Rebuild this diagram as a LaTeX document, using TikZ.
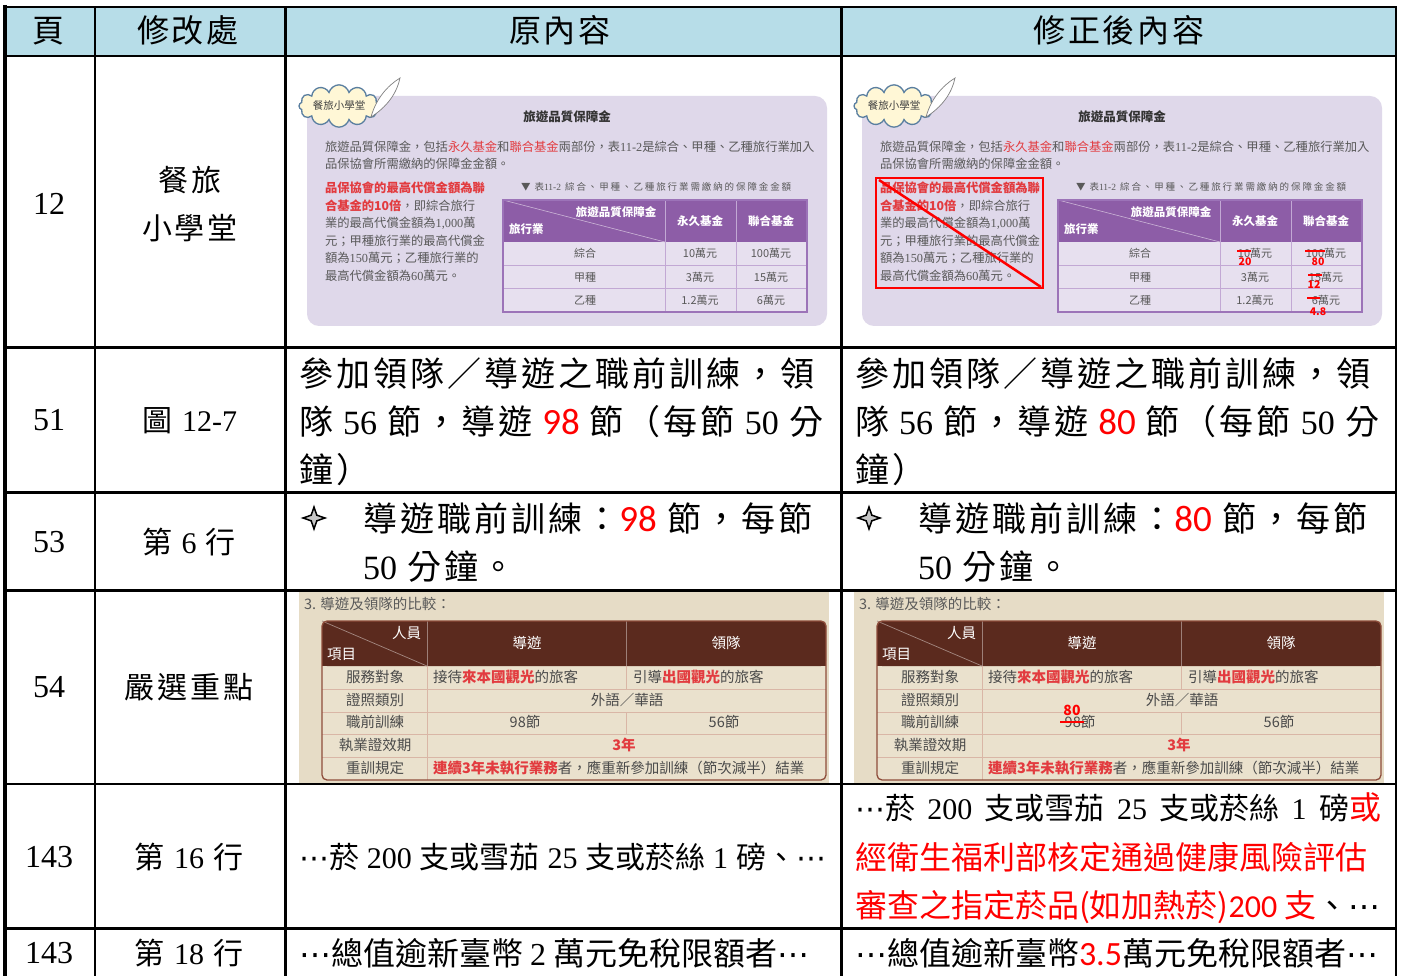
\documentclass[tikz,border=0pt]{standalone}
\usepackage{fontspec}
\setmainfont{Noto Sans CJK TC}
\newfontfamily\spaced[LetterSpace=9]{Noto Sans CJK TC}
\newfontfamily\capfont[LetterSpace=20]{Noto Sans CJK TC}
\newfontfamily\timesnum{Liberation Serif}
\newfontfamily\sansnum{Carlito}
\newfontfamily\symfont{DejaVu Sans}
\usetikzlibrary{shapes.symbols}

\definecolor{headblue}{HTML}{B7DDE8}
\definecolor{lav}{HTML}{DFD8EA}
\definecolor{lavrow}{HTML}{E7E0EF}
\definecolor{purp}{HTML}{8D5DA7}
\definecolor{purpline}{HTML}{C2A8D4}
\definecolor{purpframe}{HTML}{9C73B8}
\definecolor{shotred}{HTML}{E23B3F}
\definecolor{shotgray}{HTML}{595959}
\definecolor{tabgray}{HTML}{4A4A4A}
\definecolor{beige}{HTML}{E6DCC6}
\definecolor{beigerow}{HTML}{EAE1CD}
\definecolor{brownhead}{HTML}{5B2A1E}
\definecolor{brownline}{HTML}{8E4D3B}
\definecolor{rowline}{HTML}{D9B6A6}
\definecolor{cream}{HTML}{FFF7D6}
\definecolor{badge}{HTML}{5A7FA0}

\newcommand{\fsz}[1]{\fontsize{#1}{#1}\selectfont}
\newcommand{\tnum}[1]{{\timesnum #1}}
\newcommand{\rnum}[2][37]{\textcolor{red}{\sansnum\fsz{#1}#2}}
\newcommand{\shotmark}[1]{\textcolor{shotred}{\bfseries #1}}
\newcommand{\midell}{{\symfont ⋯}}

\begin{document}
\begin{tikzpicture}[
    x=1pt, y=-1pt,
    every node/.style={inner sep=0pt, outer sep=0pt},
    grid/.style={line width=2.6pt, line cap=rect},
    head/.style={font=\spaced\fsz{32}, anchor=base},
    pagenum/.style={font=\timesnum\fsz{32}, anchor=base},
    place/.style={font=\spaced\fsz{30}, anchor=base},
    cell/.style={font=\spaced\fsz{34}, anchor=base west},
    line143/.style={font=\fsz{30}, anchor=base west},
    shot/.style={font=\fsz{12.3}, text=shotgray, anchor=base west},
    pcap/.style={font=\capfont\fsz{9.5}, text=shotgray, anchor=base west},
    phead/.style={font=\bfseries\fsz{11.5}, text=white, anchor=base},
    pcell/.style={font=\fsz{11}, text=shotgray, anchor=base},
    btitle/.style={font=\fsz{14.5}, text=shotgray, anchor=base west},
    bhead/.style={font=\fsz{14.5}, text=white, anchor=base},
    bcell/.style={font=\fsz{14.5}, text=tabgray, anchor=base},
    fix/.style={font=\bfseries\fsz{10.5}, text=red, anchor=base},
    strike/.style={red, line width=1.6pt},
    bullet/.style={fill=gray!45, draw=black, line width=1.5pt, line join=miter}
  ]
  \useasboundingbox (0,0) rectangle (1403,976);
  \fill[white] (0,0) rectangle (1403,976);

  % header row
  \fill[headblue] (5,7) rectangle (1396,56);
  \node[head] (h_page) at (48,42.5) {頁};
  \node[head] (h_where) at (188,42.5) {修改處};
  \node[head] (h_orig) at (560,42.5) {原內容};
  \node[head] (h_new) at (1119,42.5) {修正後內容};

  % page and place columns
  \node[pagenum] (p12) at (49,214.5) {12};
  \node[place] (w12a) at (190,191.4) {餐旅};
  \node[place] (w12b) at (190,239.4) {小學堂};
  \node[pagenum] (p51) at (49,430.5) {51};
  \node[place] (w51) at (190,431) {圖 \tnum{12-7}};
  \node[pagenum] (p53) at (49,552.5) {53};
  \node[place] (w53) at (189,553) {第 \tnum{6} 行};
  \node[pagenum] (p54) at (49,697.5) {54};
  \node[place] (w54) at (189,698) {嚴選重點};
  \node[pagenum] (p143a) at (49,867.5) {143};
  \node[place] (w143a) at (189,868) {第 \tnum{16} 行};
  \node[pagenum] (p143b) at (49,963.5) {143};
  \node[place] (w143b) at (189,964) {第 \tnum{18} 行};

  % screenshot of the box, in both columns
  \foreach \dx/\side in {0/orig,555/new}{
    \begin{scope}[xshift=\dx]
      \fill[lav, rounded corners=12] (307,96) rectangle (827,326);
      \node[cloud, cloud puffs=12, aspect=2.6, draw=badge, line width=1.3pt, fill=cream,
            minimum width=80, minimum height=31, font=\fsz{10.5}, text=black!75]
            (badge-\side) at (339,106) {餐旅小學堂};
      \filldraw[fill=white, draw=gray, line width=0.7pt]
        (371,117) .. controls (376,99) and (387,86) .. (400,78)
        .. controls (397,93) and (387,107) .. (371,117) -- cycle;
      \node[font=\bfseries\fsz{12.5}, text=black!80, anchor=base] (title-\side) at (567,121.7) {旅遊品質保障金};
      \node[shot] (para1-\side) at (325,151.7) {旅遊品質保障金，包括\textcolor{shotred}{永久基金}和\textcolor{shotred}{聯合基金}兩部份，表\tnum{11-2}是綜合、甲種、乙種旅行業加入};
      \node[shot] (para2-\side) at (325,168.7) {品保協會所需繳納的保障金金額。};
      \node[shot] (left1-\side) at (325,192.5) {\shotmark{品保協會的最高代償金額為聯}};
      \node[shot] (left2-\side) at (325,210.1) {\shotmark{合基金的10倍}，即綜合旅行};
      \node[shot] (left3-\side) at (325,227.7) {業的最高代償金額為\tnum{1,000}萬};
      \node[shot] (left4-\side) at (325,245.3) {元；甲種旅行業的最高代償金};
      \node[shot] (left5-\side) at (325,262.9) {額為\tnum{150}萬元；乙種旅行業的};
      \node[shot] (left6-\side) at (325,280.5) {最高代償金額為\tnum{60}萬元。};
      \node[pcap] (cap-\side) at (521,190.6) {▼ 表\tnum{11-2} 綜合、甲種、乙種旅行業需繳納的保障金金額};
      \fill[lavrow] (503,200) rectangle (807,312);
      \fill[purp] (503,200) rectangle (807,242);
      \draw[white!55!purp, line width=0.6pt] (503,200) -- (665,242);
      \draw[purpline, line width=0.8pt] (665,200) -- (665,312) (736,200) -- (736,312)
        (503,265) -- (807,265) (503,288) -- (807,288);
      \draw[purpframe, line width=1.4pt] (503,200) rectangle (807,312);
      \node[phead] (th1-\side) at (616,216.3) {旅遊品質保障金};
      \node[phead, anchor=base west] (th2-\side) at (509,233.3) {旅行業};
      \node[phead] (th3-\side) at (700,225.3) {永久基金};
      \node[phead] (th4-\side) at (771,225.3) {聯合基金};
      \node[pcell] (r1a-\side) at (585,257.2) {綜合};
      \node[pcell] (r1b-\side) at (700,257.2) {10萬元};
      \node[pcell] (r1c-\side) at (771,257.2) {100萬元};
      \node[pcell] (r2a-\side) at (585,281.2) {甲種};
      \node[pcell] (r2b-\side) at (700,281.2) {3萬元};
      \node[pcell] (r2c-\side) at (771,281.2) {15萬元};
      \node[pcell] (r3a-\side) at (585,304.2) {乙種};
      \node[pcell] (r3b-\side) at (700,304.2) {1.2萬元};
      \node[pcell] (r3c-\side) at (771,304.2) {6萬元};
    \end{scope}
  }

  % corrections on the right box
  \draw[red, line width=2.5pt] (876,178) rectangle (1043,288);
  \draw[red, line width=2.5pt] (879,180) -- (1041,287);
  \draw[strike] (1237,251) -- (1251,251);
  \node[fix] (fix20) at (1245,266) {20};
  \draw[strike] (1305,251) -- (1325,251);
  \node[fix] (fix80) at (1318,266) {80};
  \draw[strike] (1308,275) -- (1322,275);
  \node[fix] (fix12) at (1314,289) {12};
  \draw[strike] (1307,298) -- (1320,298);
  \node[fix] (fix48) at (1318,316) {4.8};

  % row 51
  \node[cell] (o51a) at (299,386) {參加領隊／導遊之職前訓練，領};
  \node[cell] (o51b) at (299,434) {\makebox[524pt][s]{隊 \tnum{56} 節，導遊 \rnum{98} 節（每節 \tnum{50} 分}};
  \node[cell] (o51c) at (299,482) {鐘）};
  \node[cell] (n51a) at (855,386) {參加領隊／導遊之職前訓練，領};
  \node[cell] (n51b) at (855,434) {\makebox[524pt][s]{隊 \tnum{56} 節，導遊 \rnum{80} 節（每節 \tnum{50} 分}};
  \node[cell] (n51c) at (855,482) {鐘）};

  % row 53
  \foreach \bx in {314,869}
    \filldraw[bullet] (\bx,507) -- (\bx+2.8,515.2) -- (\bx+11,518) -- (\bx+2.8,520.8)
      -- (\bx,529) -- (\bx-2.8,520.8) -- (\bx-11,518) -- (\bx-2.8,515.2) -- cycle;
  \node[cell] (o53a) at (363,531) {導遊職前訓練：\rnum{98} 節，每節};
  \node[cell] (o53b) at (363,579) {\tnum{50} 分鐘。};
  \node[cell] (n53a) at (918,531) {導遊職前訓練：\rnum{80} 節，每節};
  \node[cell] (n53b) at (918,579) {\tnum{50} 分鐘。};

  % screenshot of the comparison table, in both columns
  \foreach \dx/\side in {0/orig,555/new}{
    \begin{scope}[xshift=\dx]
      \fill[beige] (299,592) rectangle (829,783);
      \node[btitle] (cmp-\side) at (304,609.5) {3. 導遊及領隊的比較：};
      \fill[beigerow, rounded corners=5] (322,621) rectangle (826,780);
      \fill[brownhead, rounded corners=5] (322,621) rectangle (826,666);
      \fill[brownhead] (322,655) rectangle (826,666);
      \draw[brownhead!55!white, line width=0.7pt] (322,621) -- (427,666);
      \draw[brownhead!60!white, line width=0.8pt] (427,621) -- (427,666) (626,621) -- (626,666);
      \draw[rowline, line width=0.8pt] (322,689) -- (826,689) (322,712) -- (826,712)
        (322,734) -- (826,734) (322,757) -- (826,757) (427,666) -- (427,780)
        (626,666) -- (626,689) (626,712) -- (626,734);
      \draw[brownline, line width=1.3pt, rounded corners=5] (322,621) rectangle (826,780);
      \node[bhead, anchor=base east] (staff-\side) at (421,638.5) {人員};
      \node[bhead, anchor=base west] (item-\side) at (327,659.5) {項目};
      \node[bhead] (guide-\side) at (527,648.5) {導遊};
      \node[bhead] (leader-\side) at (726,648.5) {領隊};
      \node[bcell] (k1-\side) at (375,682.5) {服務對象};
      \node[bcell] (k2-\side) at (375,705.5) {證照類別};
      \node[bcell] (k3-\side) at (375,727.5) {職前訓練};
      \node[bcell] (k4-\side) at (375,750.5) {執業證效期};
      \node[bcell] (k5-\side) at (375,773.5) {重訓規定};
      \node[bcell, anchor=base west] (v1a-\side) at (433,682.5) {接待\shotmark{來本國觀光}的旅客};
      \node[bcell, anchor=base west] (v1b-\side) at (633,682.5) {引導\shotmark{出國觀光}的旅客};
      \node[bcell] (v2-\side) at (627,705.5) {外語／華語};
      \node[bcell] (v3a-\side) at (525,727.5) {98節};
      \node[bcell] (v3b-\side) at (724,727.5) {56節};
      \node[bcell] (v4-\side) at (624,750.5) {\shotmark{3年}};
      \node[bcell, anchor=base west] (v5-\side) at (433,773.5) {\shotmark{連續3年未執行業務}者，應重新參加訓練（節次減半）結業};
    \end{scope}
  }

  % correction on the right table
  \draw[strike] (1060,722) -- (1084,722);
  \node[fix, font=\bfseries\fsz{14}] (fix80b) at (1072,715) {80};

  % rows 143
  \node[line143] (o143a) at (299,868) {\makebox[527pt][s]{\midell 菸 \tnum{200} 支或雪茄 \tnum{25} 支或菸絲 \tnum{1} 磅、\midell}};
  \node[line143] (n143a) at (855,819) {\makebox[526pt][s]{\midell 菸 \tnum{200} 支或雪茄 \tnum{25} 支或菸絲 \tnum{1} 磅\textcolor{red}{\fsz{32}或}}};
  \node[line143, font=\fsz{32}, text=red] (n143b) at (855,869) {經衛生福利部核定通過健康風險評估};
  \node[line143, font=\fsz{32}, text=red] (n143c) at (855,917) {審查之指定菸品(如加熱菸)\rnum[32]{200} 支\textcolor{black}{、\midell}};
  \node[line143, font=\fsz{32}] (o143b) at (299,965) {\midell 總值逾新臺幣 \tnum{2} 萬元免稅限額者\midell};
  \node[line143, font=\fsz{32}] (n143b2) at (855,965) {\midell 總值逾新臺幣\rnum[34]{3.5}萬元免稅限額者\midell};

  % table grid
  \draw[grid] (5,7) -- (1396,7);
  \foreach \yy in {56,347.5,492.5,590.5,784,928.5}
    \draw[grid] (5,\yy) -- (1396,\yy);
  \foreach \xx in {95,285.5,841.5,1396}
    \draw[grid] (\xx,7) -- (\xx,976);
  \draw[line width=4.5pt] (5,5) -- (5,976);
\end{tikzpicture}
\end{document}
